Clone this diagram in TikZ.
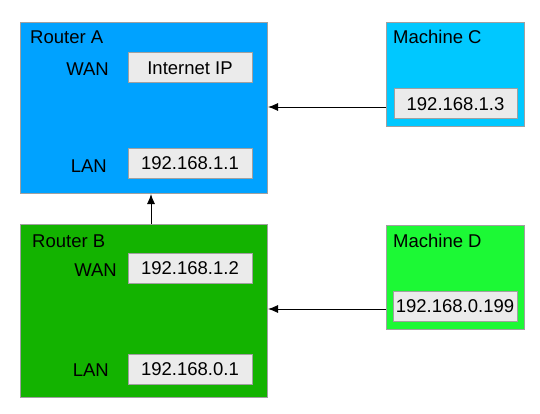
\documentclass[tikz,border=0pt]{standalone}
\usepackage{fontspec}
\setmainfont{Liberation Sans}
\usetikzlibrary{arrows.meta}
\definecolor{routerA}{RGB}{0,162,255}
\definecolor{machC}{RGB}{0,200,255}
\definecolor{routerB}{RGB}{19,179,0}
\definecolor{machD}{RGB}{28,249,53}
\definecolor{edgegray}{RGB}{160,160,160}
\definecolor{ipgray}{RGB}{235,235,235}
\begin{document}
\begin{tikzpicture}[x=1pt,y=-1pt,
  font=\fontsize{18.5}{22}\selectfont,
  panel/.style={draw=edgegray, line width=1pt, anchor=north west, inner sep=0pt},
  ipbox/.style={draw=edgegray, line width=1pt, fill=ipgray, inner sep=0pt, minimum height=30pt},
  lbl/.style={inner sep=0pt, anchor=base west},
  port/.style={inner sep=0pt, anchor=base east},
  arr/.style={line width=0.9pt, -{Latex[length=10pt,width=8pt]}}]
\useasboundingbox (0,0) rectangle (540,414);
\fill[white] (0,0) rectangle (540,414);
% panels
\node[panel, fill=routerA, minimum width=247pt, minimum height=171pt] (ra) at (20,22) {};
\node[panel, fill=machC, minimum width=138pt, minimum height=104pt] (mc) at (386,22) {};
\node[panel, fill=routerB, minimum width=247pt, minimum height=173pt] (rb) at (20,224) {};
\node[panel, fill=machD, minimum width=138pt, minimum height=104pt] (md) at (386,225) {};
% titles
\node[lbl] (ta) at (30,44) {Router A};
\node[lbl] (tc) at (393,44) {Machine C};
\node[lbl] (tb) at (32,247) {Router B};
\node[lbl] (td) at (393,247) {Machine D};
% ports
\node[port] (awan) at (109,76) {WAN};
\node[port] (alan) at (107,172) {LAN};
\node[port] (bwan) at (117,276) {WAN};
\node[port] (blan) at (109,376) {LAN};
% ip boxes
\node[ipbox, minimum width=124pt] (aip) at (190,68) {Internet IP};
\node[ipbox, minimum width=124pt] (alanip) at (190,163.5) {192.168.1.1};
\node[ipbox, minimum width=123pt] (cip) at (455.5,104) {192.168.1.3};
\node[ipbox, minimum width=124pt] (bwanip) at (190,268) {192.168.1.2};
\node[ipbox, minimum width=124pt] (blanip) at (190,369) {192.168.0.1};
\node[ipbox, minimum width=124pt] (dip) at (455,306) {192.168.0.199};
% connectors
\coordinate (c1) at (386,107);
\coordinate (d1) at (386,309);
\coordinate (b1) at (151,224);
\draw[arr] (c1) -- (c1 -| ra.east);
\draw[arr] (d1) -- (d1 -| rb.east);
\draw[arr] (b1) -- (b1 |- ra.south);
\end{tikzpicture}
\end{document}
